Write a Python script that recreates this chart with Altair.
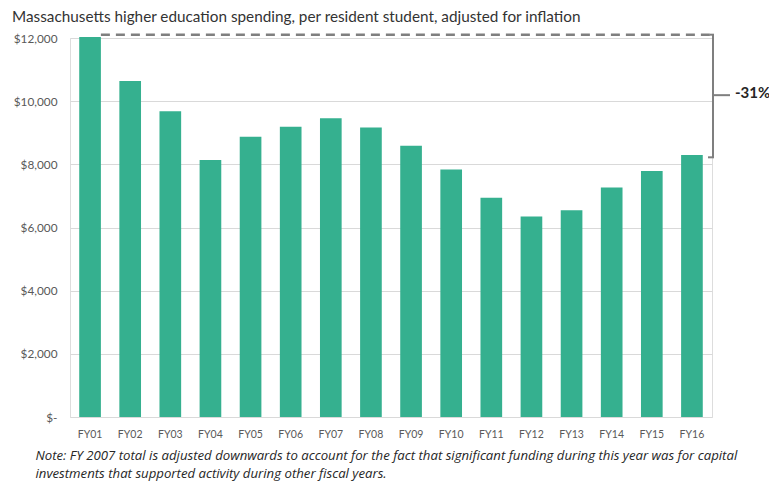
import altair as alt
import pandas as pd

# ---- data ----
years = ["FY01", "FY02", "FY03", "FY04", "FY05", "FY06", "FY07", "FY08",
         "FY09", "FY10", "FY11", "FY12", "FY13", "FY14", "FY15", "FY16"]
spending = [12030, 10635, 9683, 8137, 8876, 9193, 9460, 9165,
            8585, 7840, 6945, 6350, 6545, 7270, 7790, 8295]
y_ticks = [0, 2000, 4000, 6000, 8000, 10000, 12000]

title_text = "Massachusetts higher education spending, per resident student, adjusted for inflation"
note_lines = [
    "Note: FY 2007 total is adjusted downwards to account for the fact that significant funding during this year was for capital",
    "investments that supported activity during other fiscal years.",
]
change_label = "-31%"
ref_level = 12100      # dashed reference line (FY01 level)
bracket_top = 12105
bracket_bottom = 8222
bracket_mid = 10190

W = 642
H = 379
FONT = "Lato"
BAR = "#35B08F"
GREY = "#7f7f7f"

df = pd.DataFrame({"year": years, "value": spending})

x_scale = alt.Scale(domain=years, paddingInner=0.46, paddingOuter=0.23)
y_scale = alt.Scale(domain=[0, 12000], nice=False)

bars = alt.Chart(df).mark_bar(color=BAR).encode(
    x=alt.X("year:N", scale=x_scale, sort=years,
            axis=alt.Axis(labelAngle=0, ticks=False, domain=False, labelPadding=12,
                          labelFontSize=10.5, labelColor="#595959", labelFont=FONT,
                          title=note_lines, titleFont="Open Sans", titleFontStyle="italic",
                          titleFontWeight="normal", titleFontSize=13.2, titleColor="#262626",
                          titleAlign="left", titleAnchor="start", titleBaseline="alphabetic",
                          titleX=-35, titleY=42, titleLineHeight=18.5)),
    y=alt.Y("value:Q", scale=y_scale,
            axis=alt.Axis(values=y_ticks, ticks=False, domain=False, labelPadding=13,
                          labelFontSize=11.8, labelColor="#595959", labelFont=FONT,
                          gridColor="#d9d9d9", gridWidth=1, title=None,
                          labelExpr="datum.value == 0 ? '$-\u00a0\u00a0\u00a0' : '$' + format(datum.value, ',')")),
)

ref_df = pd.DataFrame({"year": ["FY01"], "level": [ref_level]})
dashed = alt.Chart(ref_df).mark_rule(color=GREY, strokeDash=[9, 6], strokeWidth=2.5).encode(
    x=alt.X("year:N", scale=x_scale, bandPosition=1),
    x2=alt.value(W - 1),
    y=alt.Y("level:Q", scale=y_scale),
)

br_df = pd.DataFrame({"top": [bracket_top], "bottom": [bracket_bottom], "mid": [bracket_mid]})
br_base = alt.Chart(br_df)
vert = br_base.mark_rule(color=GREY, strokeWidth=2).encode(
    x=alt.value(W + 1), y=alt.Y("top:Q", scale=y_scale), y2="bottom:Q")
bottom_hook = br_base.mark_rule(color=GREY, strokeWidth=2).encode(
    x=alt.value(W - 4), x2=alt.value(W + 2), y=alt.Y("bottom:Q", scale=y_scale))
top_hook = br_base.mark_rule(color=GREY, strokeWidth=2).encode(
    x=alt.value(W - 2), x2=alt.value(W + 2), y=alt.Y("top:Q", scale=y_scale))
mid_tick = br_base.mark_rule(color=GREY, strokeWidth=2).encode(
    x=alt.value(W + 1), x2=alt.value(W + 18), y=alt.Y("mid:Q", scale=y_scale))

lab_df = pd.DataFrame({"mid": [bracket_mid], "label": [change_label]})
label = alt.Chart(lab_df).mark_text(align="left", baseline="middle", font=FONT,
                                    fontSize=15, fontWeight="bold", color="#262626", dy=-2).encode(
    x=alt.value(W + 23), y=alt.Y("mid:Q", scale=y_scale), text="label:N")

chart = alt.layer(bars, dashed, vert, bottom_hook, top_hook, mid_tick, label).properties(
    width=W, height=H,
    title=alt.TitleParams(text=title_text, anchor="start", frame="group", dx=-58,
                          font=FONT, fontSize=15.3, fontWeight="normal", color="#333333",
                          offset=8),
    autosize=alt.AutoSizeParams(type="none"),
    padding={"left": 62, "top": 30, "right": 57, "bottom": 68},
).configure_view(stroke=None).configure(background="white")

chart.save("out.html", embed_options={"renderer": "svg", "actions": False})
